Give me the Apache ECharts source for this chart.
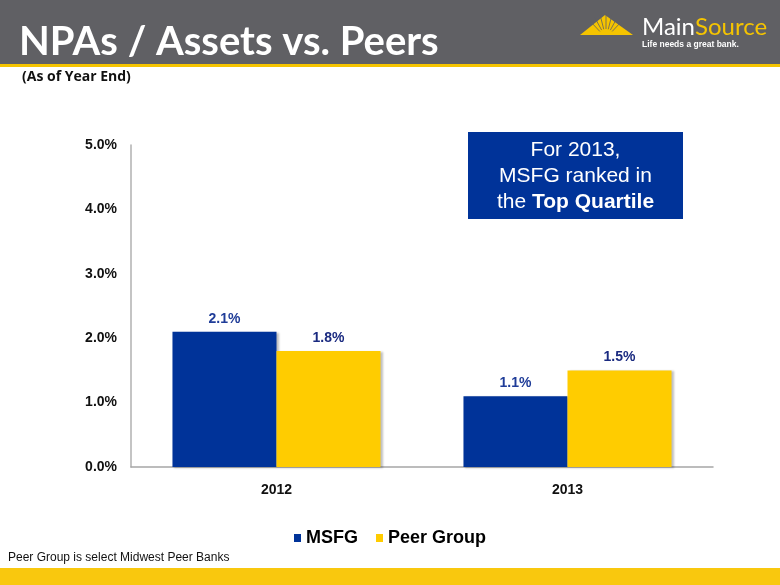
<!DOCTYPE html>
<html><head><meta charset="utf-8">
<script src="https://cdn.jsdelivr.net/npm/echarts@6/dist/echarts.min.js"></script>
<style>html,body{margin:0;padding:0;background:#fff}#c{width:780px;height:585px}</style>
</head><body><div id="c"></div>
<script>
const categories = ['2012', '2013'];
const msfg = [2.1, 1.1];
const peer = [1.8, 1.5];
const yTicks = [0, 1, 2, 3, 4, 5];

const chart = echarts.init(document.getElementById('c'));
const font = 'Liberation Sans, Arial, sans-serif';
const lbl = (c) => ({show: true, position: 'top', distance: 6, color: c, fontFamily: font, fontWeight: 'bold', fontSize: 14,
  formatter: p => p.value.toFixed(1) + '%'});

// sunburst logo: yellow triangle with gray ray gaps
const logo = [{type: 'polygon', shape: {points: [[580, 35], [605, 15], [633, 35]]}, style: {fill: '#f5c400'}}];
const bx = 606, by = 38;
for (let i = 1; i < 8; i++) {
  const a = Math.PI * (0.18 + i * 0.08);
  logo.push({type: 'line', shape: {x1: bx + Math.cos(a) * 9, y1: by - Math.sin(a) * 9, x2: bx + Math.cos(a) * 24, y2: by - Math.sin(a) * 24},
    style: {stroke: '#606064', lineWidth: 0.8}});
}

chart.setOption({
  animation: false,
  grid: {left: 131, right: 67, top: 145, bottom: 118},
  legend: {
    bottom: 33, left: 'center', itemWidth: 7, itemHeight: 8, itemGap: 18, icon: 'rect',
    textStyle: {fontFamily: font, fontWeight: 'bold', fontSize: 18, color: '#000'},
    data: ['MSFG', 'Peer Group']
  },
  xAxis: {
    type: 'category', data: categories,
    axisLine: {lineStyle: {color: '#a6a6a6', width: 1.5}}, axisTick: {show: false},
    axisLabel: {margin: 16, fontFamily: font, fontWeight: 'bold', fontSize: 14, color: '#111'}
  },
  yAxis: {
    type: 'value', min: yTicks[0], max: yTicks[yTicks.length - 1], interval: 1,
    axisLine: {show: true, lineStyle: {color: '#b0b0b0', width: 1.5}}, axisTick: {show: false}, splitLine: {show: false},
    axisLabel: {margin: 14, fontFamily: font, fontWeight: 'bold', fontSize: 14, color: '#111', formatter: v => v.toFixed(1) + '%'}
  },
  series: [
    {name: 'MSFG', type: 'bar', data: msfg, barGap: '0%', barCategoryGap: '28.5%',
      itemStyle: {color: '#003399', shadowColor: 'rgba(0,0,0,0.25)', shadowOffsetX: 2, shadowOffsetY: 1, shadowBlur: 2},
      label: lbl('#1f3c98')},
    {name: 'Peer Group', type: 'bar', data: peer,
      itemStyle: {color: '#ffcc00', shadowColor: 'rgba(0,0,0,0.25)', shadowOffsetX: 2, shadowOffsetY: 1, shadowBlur: 2},
      label: lbl('#1a2a80')}
  ],
  graphic: [
    {type: 'rect', shape: {x: 0, y: 0, width: 780, height: 64}, style: {fill: '#606064'}},
    {type: 'rect', shape: {x: 0, y: 64, width: 780, height: 3}, style: {fill: '#f5c400'}},
    {type: 'text', x: 19, y: 42, style: {text: 'NPAs / Assets vs. Peers', fill: '#fff', verticalAlign: 'middle', font: 'bold 40px Lato, sans-serif'}},
    {type: 'text', left: 22, top: 70, style: {text: '(As of Year End)', fill: '#111', font: 'bold 14px "Open Sans", Lato, sans-serif'}},
    ...logo,
    {type: 'text', x: 642, y: 27, style: {text: '{a|Main}{b|Source}', verticalAlign: 'middle', rich: {
      a: {fill: '#fff', font: '24px Lato, sans-serif'},
      b: {fill: '#f5c400', font: '24px Lato, sans-serif'}}}},
    {type: 'text', left: 642, top: 40, style: {text: 'Life needs a great bank.', fill: '#fff', font: 'bold 8.5px Liberation Sans, Arial, sans-serif'}},
    {type: 'rect', shape: {x: 468, y: 132, width: 215, height: 87}, style: {fill: '#003399'}},
    {type: 'text', x: 575.5, y: 176, style: {text: 'For 2013,\nMSFG ranked in\nthe {b|Top Quartile}', align: 'center', verticalAlign: 'middle',
      fill: '#fff', font: '21px Liberation Sans, Arial, sans-serif', lineHeight: 26,
      rich: {b: {fill: '#fff', font: 'bold 21px Liberation Sans, Arial, sans-serif', lineHeight: 26}}}},
    {type: 'text', left: 8, top: 552, style: {text: 'Peer Group is select Midwest Peer Banks', fill: '#111', font: '12px Liberation Sans, Arial, sans-serif'}},
    {type: 'rect', shape: {x: 0, y: 568, width: 780, height: 17}, style: {fill: '#f9c80e'}}
  ]
});
</script></body></html>
